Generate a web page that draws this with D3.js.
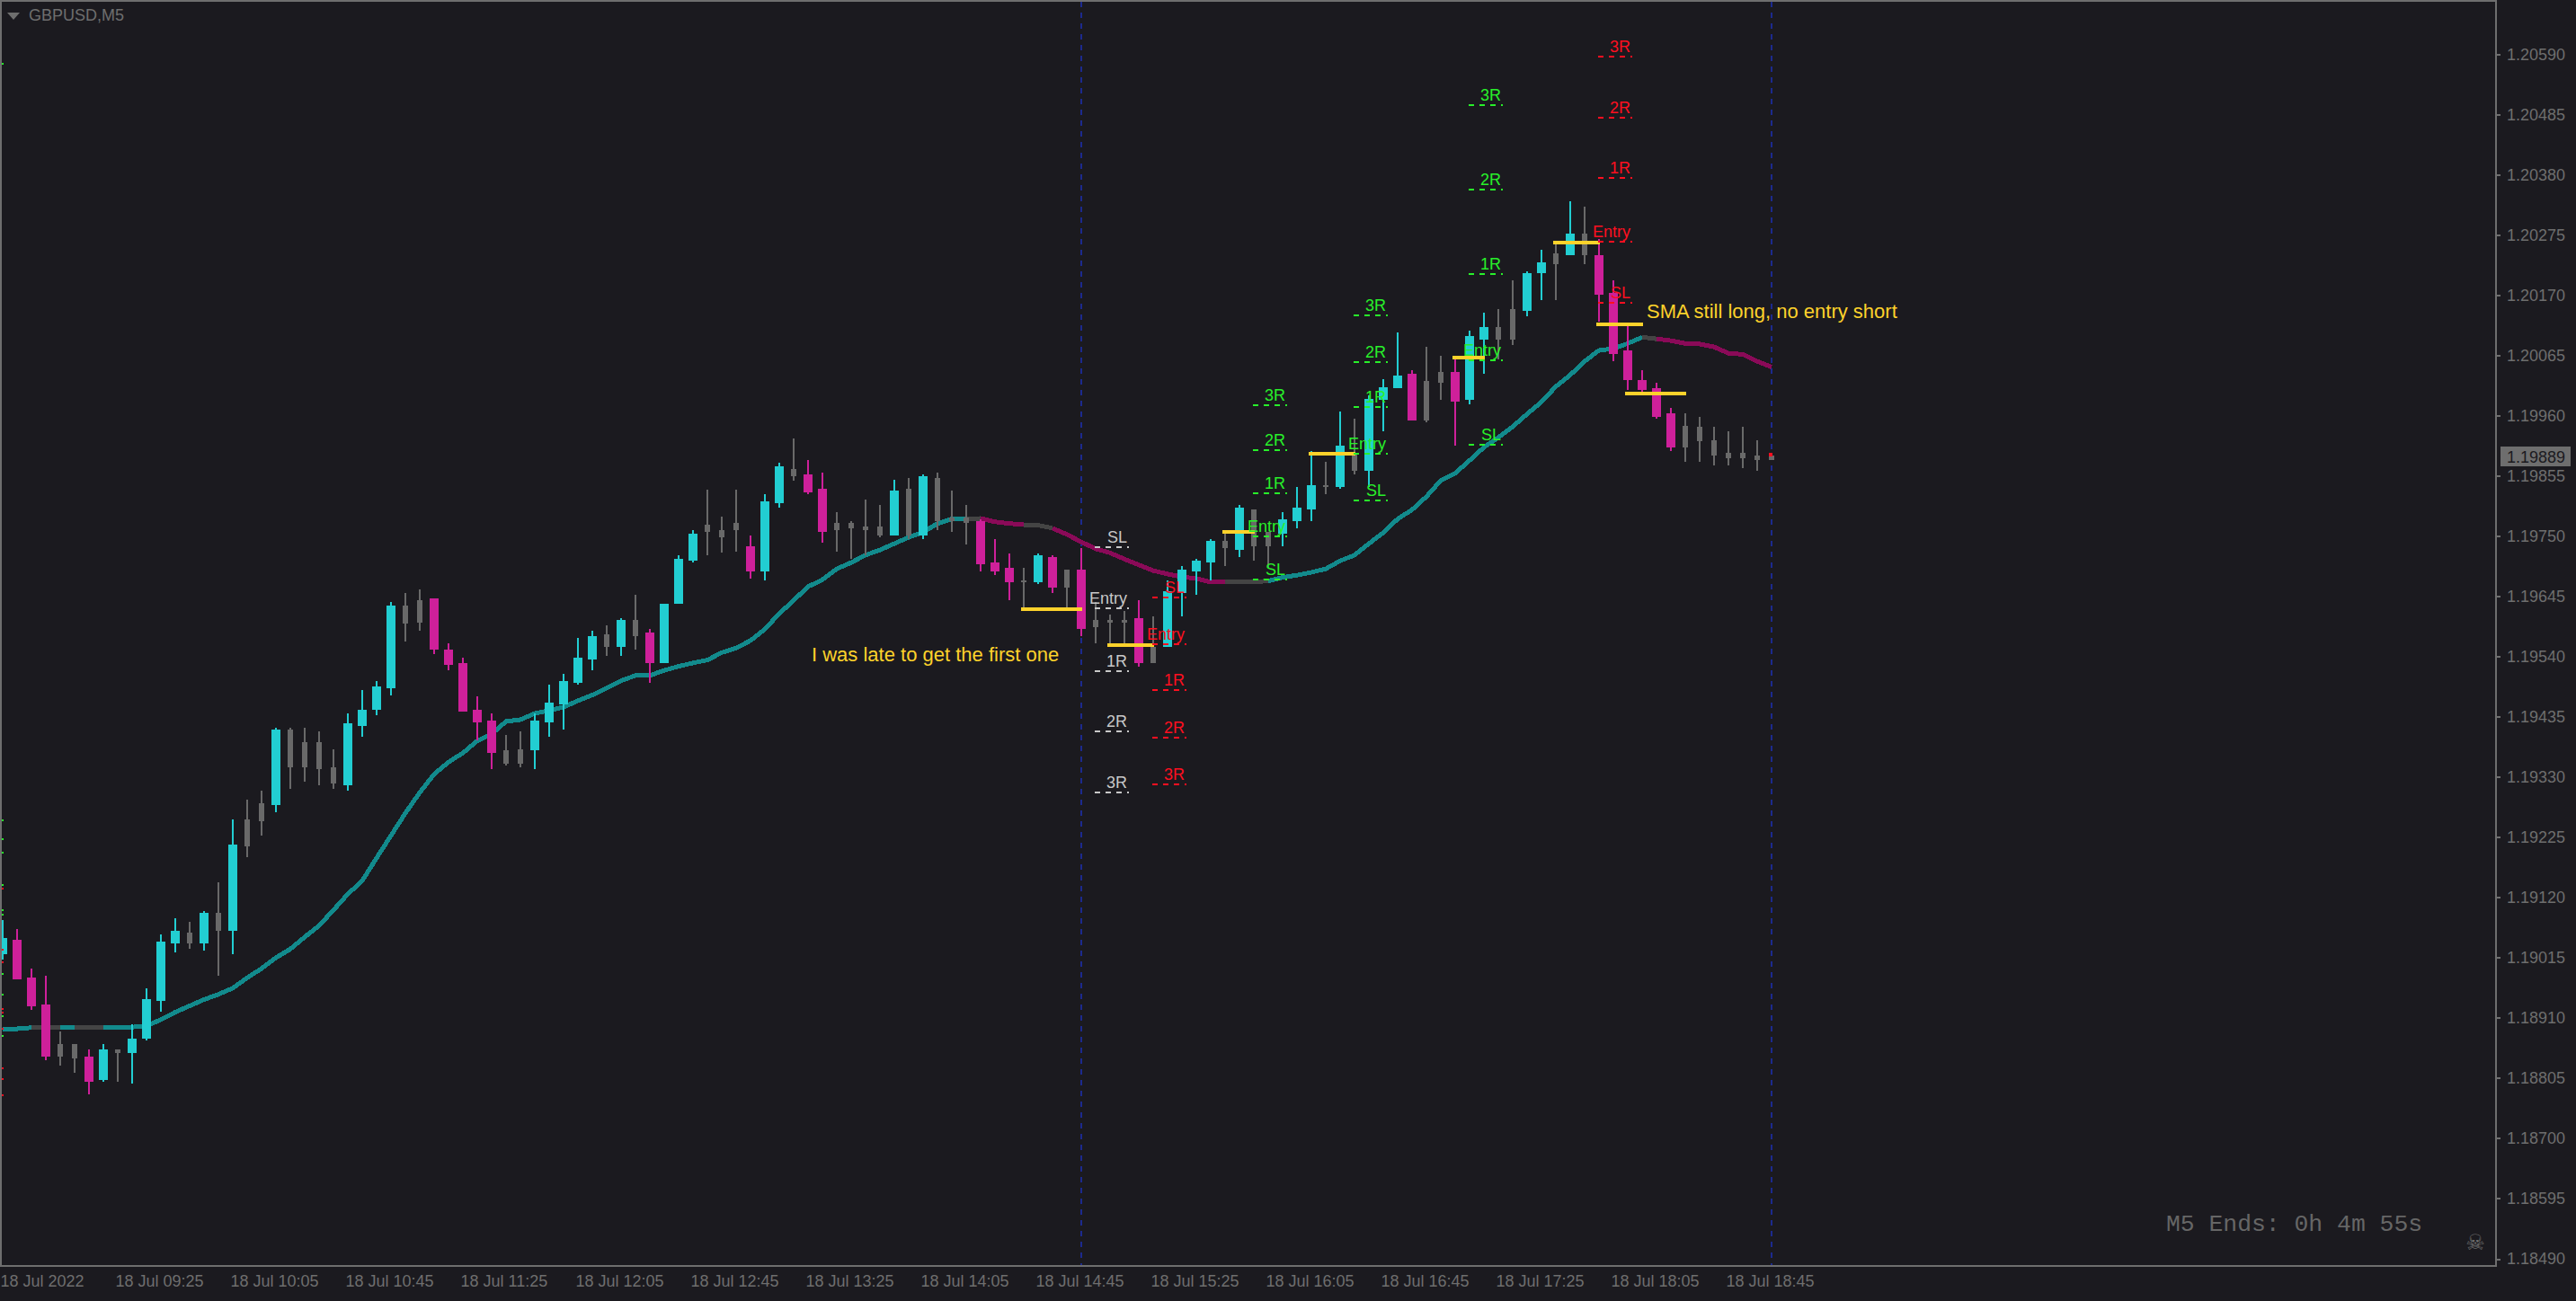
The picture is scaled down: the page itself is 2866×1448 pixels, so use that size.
<!DOCTYPE html>
<html><head><meta charset="utf-8">
<script src="https://cdn.jsdelivr.net/npm/d3@7/dist/d3.min.js"></script>
<style>
html,body{margin:0;padding:0;background:#1b1a1f;overflow:hidden}
text{font-family:"Liberation Sans",Arial,sans-serif;font-size:18px}
</style></head><body>
<svg id="chart" width="2866" height="1448"></svg>
<script>
const kinds = [
"u","d","d","d","n","n","d","u","n","u",
"u","u","u","n","u","n","u","n","n","u",
"n","n","n","n","u","u","u","u","n","n",
"d","d","d","d","d","n","n","u","u","u",
"u","u","n","u","n","d","u","u","u","n",
"n","n","d","u","u","n","d","d","n","n",
"n","n","u","n","u","n","n","n","d","d",
"d","n","u","d","n","d","n","n","n","d",
"n","u","u","u","u","n","u","n","n","u",
"u","u","n","u","n","u","u","u","d","n",
"n","d","u","u","n","n","u","u","n","u",
"n","d","d","d","d","d","d","n","n","n",
"n","n","n","n"];
const highs = [
1.19080,1.19065,1.18996,1.18983,1.18887,1.18865,1.18855,1.18865,1.18855,1.18899,
1.18962,1.19055,1.19084,1.19077,1.19096,1.19146,1.19256,1.19291,1.19306,1.19416,
1.19416,1.19416,1.19410,1.19379,1.19441,1.19482,1.19498,1.19635,1.19651,1.19657,
1.19641,1.19563,1.19538,1.19470,1.19441,1.19404,1.19410,1.19441,1.19491,1.19510,
1.19572,1.19585,1.19594,1.19607,1.19648,1.19588,1.19632,1.19717,1.19761,1.19831,
1.19784,1.19831,1.19751,1.19824,1.19878,1.19921,1.19883,1.19861,1.19792,1.19776,
1.19814,1.19805,1.19849,1.19852,1.19858,1.19861,1.19830,1.19805,1.19780,1.19745,
1.19720,1.19695,1.19720,1.19717,1.19692,1.19729,1.19635,1.19613,1.19619,1.19638,
1.19610,1.19673,1.19698,1.19710,1.19745,1.19757,1.19805,1.19796,1.19757,1.19792,
1.19836,1.19899,1.19880,1.19968,1.19955,1.19996,1.20024,1.20105,1.20039,1.20080,
1.20064,1.20058,1.20108,1.20140,1.20146,1.20196,1.20212,1.20250,1.20259,1.20334,
1.20325,1.20268,1.20196,1.20118,1.20039,1.20017,1.19974,1.19965,1.19958,1.19940,
1.19933,1.19940,1.19918,1.19890];
const bodyTops = [
1.19049,1.19046,1.18980,1.18934,1.18865,1.18865,1.18843,1.18855,1.18855,1.18874,
1.18943,1.19043,1.19062,1.19059,1.19093,1.19093,1.19212,1.19256,1.19284,1.19413,
1.19413,1.19391,1.19391,1.19347,1.19423,1.19448,1.19488,1.19629,1.19629,1.19638,
1.19641,1.19553,1.19528,1.19448,1.19429,1.19376,1.19379,1.19429,1.19460,1.19498,
1.19538,1.19575,1.19579,1.19604,1.19604,1.19582,1.19632,1.19710,1.19754,1.19770,
1.19761,1.19773,1.19732,1.19811,1.19872,1.19867,1.19858,1.19833,1.19773,1.19773,
1.19767,1.19767,1.19830,1.19833,1.19855,1.19852,1.19783,1.19783,1.19776,1.19704,
1.19695,1.19673,1.19717,1.19714,1.19692,1.19692,1.19604,1.19604,1.19604,1.19607,
1.19557,1.19654,1.19692,1.19707,1.19742,1.19742,1.19799,1.19796,1.19757,1.19780,
1.19799,1.19839,1.19839,1.19908,1.19896,1.19990,1.20009,1.20030,1.20033,1.20020,
1.20036,1.20036,1.20099,1.20114,1.20114,1.20146,1.20209,1.20228,1.20243,1.20278,
1.20278,1.20240,1.20174,1.20074,1.20023,1.20008,1.19965,1.19943,1.19940,1.19918,
1.19896,1.19896,1.19890,1.19890];
const bodyBottoms = [
1.19021,1.18977,1.18931,1.18843,1.18843,1.18840,1.18799,1.18802,1.18849,1.18849,
1.18874,1.18940,1.19040,1.19040,1.19040,1.19062,1.19062,1.19209,1.19253,1.19281,
1.19347,1.19347,1.19344,1.19319,1.19316,1.19419,1.19448,1.19485,1.19597,1.19600,
1.19553,1.19525,1.19444,1.19426,1.19372,1.19354,1.19354,1.19376,1.19426,1.19457,
1.19495,1.19535,1.19557,1.19557,1.19575,1.19528,1.19528,1.19632,1.19707,1.19757,
1.19748,1.19761,1.19689,1.19689,1.19808,1.19855,1.19827,1.19757,1.19761,1.19764,
1.19761,1.19751,1.19751,1.19751,1.19751,1.19776,1.19776,1.19773,1.19701,1.19689,
1.19670,1.19670,1.19670,1.19660,1.19660,1.19588,1.19591,1.19600,1.19600,1.19528,
1.19528,1.19557,1.19651,1.19689,1.19704,1.19729,1.19726,1.19732,1.19732,1.19754,
1.19776,1.19796,1.19836,1.19836,1.19864,1.19864,1.19987,1.20008,1.19952,1.19952,
1.20017,1.19984,1.19987,1.20093,1.20093,1.20093,1.20143,1.20209,1.20224,1.20240,
1.20240,1.20171,1.20067,1.20023,1.20005,1.19958,1.19905,1.19905,1.19915,1.19890,
1.19886,1.19886,1.19883,1.19883];
const lows = [
1.19011,1.18977,1.18924,1.18837,1.18827,1.18815,1.18777,1.18799,1.18799,1.18796,
1.18871,1.18921,1.19024,1.19030,1.19027,1.18983,1.19021,1.19190,1.19228,1.19269,
1.19310,1.19322,1.19316,1.19310,1.19306,1.19401,1.19438,1.19473,1.19566,1.19585,
1.19544,1.19516,1.19444,1.19394,1.19344,1.19350,1.19347,1.19344,1.19401,1.19413,
1.19491,1.19516,1.19541,1.19541,1.19553,1.19495,1.19528,1.19632,1.19704,1.19717,
1.19721,1.19723,1.19676,1.19673,1.19799,1.19846,1.19824,1.19739,1.19723,1.19710,
1.19717,1.19748,1.19751,1.19745,1.19745,1.19761,1.19757,1.19736,1.19689,1.19682,
1.19638,1.19623,1.19666,1.19651,1.19619,1.19575,1.19563,1.19563,1.19563,1.19522,
1.19528,1.19557,1.19610,1.19648,1.19673,1.19698,1.19714,1.19707,1.19695,1.19732,
1.19764,1.19776,1.19824,1.19833,1.19858,1.19836,1.19933,1.20008,1.19952,1.19949,
1.19987,1.19908,1.19980,1.20033,1.20058,1.20083,1.20134,1.20162,1.20162,1.20240,
1.20224,1.20124,1.20055,1.20005,1.20002,1.19955,1.19899,1.19880,1.19880,1.19874,
1.19874,1.19868,1.19864,1.19883];
const sma = [
1.18890,1.18891,1.18893,1.18893,1.18893,1.18893,1.18893,1.18893,1.18893,1.18894,
1.18896,1.18907,1.18920,1.18931,1.18942,1.18951,1.18962,1.18980,1.18996,1.19015,
1.19030,1.19051,1.19071,1.19098,1.19126,1.19149,1.19189,1.19228,1.19267,1.19303,
1.19335,1.19356,1.19372,1.19393,1.19405,1.19427,1.19430,1.19441,1.19446,1.19452,
1.19463,1.19473,1.19485,1.19498,1.19507,1.19507,1.19516,1.19523,1.19529,1.19534,
1.19547,1.19555,1.19568,1.19588,1.19615,1.19638,1.19662,1.19674,1.19693,1.19704,
1.19717,1.19726,1.19737,1.19748,1.19757,1.19772,1.19780,1.19780,1.19781,1.19775,
1.19772,1.19770,1.19769,1.19764,1.19753,1.19740,1.19728,1.19721,1.19710,1.19700,
1.19690,1.19684,1.19679,1.19676,1.19670,1.19670,1.19670,1.19670,1.19672,1.19678,
1.19682,1.19687,1.19693,1.19707,1.19717,1.19737,1.19756,1.19780,1.19796,1.19819,
1.19847,1.19860,1.19882,1.19905,1.19922,1.19941,1.19963,1.19984,1.20011,1.20031,
1.20055,1.20074,1.20077,1.20086,1.20097,1.20094,1.20091,1.20086,1.20085,1.20080,
1.20069,1.20067,1.20055,1.20045];
// slope state run lengths of the moving average: [state, number of points]
const smaRuns = [["u",3],["n",2],["u",1],["n",2],["u",60],["n",1],["d",3],["n",2],["d",12],["n",3],["u",26],["n",1],["d",8]];
const priceTicks = [1.20590,1.20485,1.20380,1.20275,1.20170,1.20065,1.19960,1.19855,1.19750,1.19645,1.19540,1.19435,1.19330,1.19225,1.19120,1.19015,1.18910,1.18805,1.18700,1.18595,1.18490];
const timeLabels = ["18 Jul 2022","18 Jul 09:25","18 Jul 10:05","18 Jul 10:45","18 Jul 11:25","18 Jul 12:05","18 Jul 12:45","18 Jul 13:25","18 Jul 14:05","18 Jul 14:45","18 Jul 15:25","18 Jul 16:05","18 Jul 16:45","18 Jul 17:25","18 Jul 18:05","18 Jul 18:45"];
const sessionBars = [75,123];
const levelStart = [75.94,79.94,86.94,93.94,101.94,110.94];
const levelEnd   = [78.31,82.31,89.31,96.31,104.31,113.31];
const levelKinds = ["white","red","green","green","green","red"];
const levelNames = ["SL","Entry","1R","2R","3R"];
const levelPrices = [
 [1.19731,1.19624,1.19515,1.19409,1.19303],
 [1.19643,1.19561,1.19481,1.19399,1.19317],
 [1.19674,1.19750,1.19825,1.19900,1.19979],
 [1.19813,1.19894,1.19976,1.20053,1.20135],
 [1.19910,1.20056,1.20207,1.20355,1.20502],
 [1.20157,1.20264,1.20374,1.20480,1.20587]];
const entryFrom  = [70.81,76.81,84.81,90.81,100.81,107.81,110.81,112.81];
const entryTo    = [75.06,80.06,87.06,94.06,103.06,111.06,114.06,117.06];
const entryPrice = [1.19623,1.19560,1.19757,1.19893,1.20061,1.20262,1.20120,1.19998];
const notes = ["I was late to get the first one","SMA still long, no entry short"];
const noteBar = [56.25,114.31];
const notePrice = [1.19532,1.20130];
const leftGreen = [1.20574,1.19255,1.19222,1.19198,1.19141,1.19098,1.19090,1.18986,1.18951,1.18913,1.18879];
const leftRed = [1.19135,1.19029,1.19007,1.18926,1.18920,1.18891,1.18822,1.18803,1.18775];
const bid = 1.19889;

const C = {bg:"#1b1a1f",u:"#22ced2",d:"#ce209a",n:"#696969",smaU:"#128a8c",smaD:"#8a0a58",smaN:"#444444",axis:"#6e6e6e",yellow:"#fdd22b",white:"#c8c8c8",red:"#ff0f20",green:"#28f02a",blue:"#1c2a8e"};
const W=2866,H=1448,plotR=2777,plotB=1409;
const svg=d3.select("#chart");
svg.append("rect").attr("width",W).attr("height",H).attr("fill",C.bg);
const x=d3.scaleLinear().domain([0,123]).range([3,1971]);
const y=d3.scaleLinear().domain([1.18490,1.20590]).range([1401,60.6]);
const crisp=g=>g.attr("shape-rendering","crispEdges");

// session separators
svg.append("g").call(crisp).selectAll("line").data(sessionBars).join("line")
 .attr("x1",d=>x(d)).attr("x2",d=>x(d)).attr("y1",2).attr("y2",plotB)
 .attr("stroke",C.blue).attr("stroke-width",2).attr("stroke-dasharray","6 6");

// SMA
const smaLine=d3.line().x(d=>x(d.i)).y(d=>y(d.v));
const smaG=svg.append("g").call(crisp).attr("fill","none").attr("stroke-width",5).attr("stroke-linejoin","round");
let pos=0;
smaRuns.forEach(([s,n])=>{
  const from=Math.max(0,pos-1),to=pos+n;
  const pts=d3.range(from,to).map(i=>({i,v:sma[i]}));
  smaG.append("path").attr("d",smaLine(pts)).attr("stroke",s==="u"?C.smaU:s==="d"?C.smaD:C.smaN);
  pos=to;
});

// candles
const idx=d3.range(highs.length);
const cg=svg.append("g").call(crisp);
cg.selectAll("rect.w").data(idx).join("rect").attr("class","w")
 .attr("x",i=>x(i)-1).attr("width",2)
 .attr("y",i=>y(highs[i])).attr("height",i=>Math.max(0,y(lows[i])-y(highs[i])))
 .attr("fill",i=>C[kinds[i]]);
cg.selectAll("rect.b").data(idx).join("rect").attr("class","b")
 .attr("x",i=>x(i)-(kinds[i]==="n"?3:5)).attr("width",i=>kinds[i]==="n"?6:10)
 .attr("y",i=>y(bodyTops[i])).attr("height",i=>Math.max(2,y(bodyBottoms[i])-y(bodyTops[i])))
 .attr("fill",i=>C[kinds[i]]);

// bid marker on last bar
svg.append("rect").call(crisp).attr("x",x(123)-3).attr("width",4).attr("y",y(bid)-4).attr("height",4).attr("fill",C.red);

// entry rules
svg.append("g").call(crisp).selectAll("line").data(entryPrice).join("line")
 .attr("x1",(d,i)=>x(entryFrom[i])).attr("x2",(d,i)=>x(entryTo[i]))
 .attr("y1",d=>y(d)).attr("y2",d=>y(d)).attr("stroke",C.yellow).attr("stroke-width",4);

// levels
levelPrices.forEach((row,k)=>{
  const g=svg.append("g"),col=C[levelKinds[k]];
  row.forEach((p,j)=>{
    g.append("line").call(crisp).attr("x1",x(levelStart[k])).attr("x2",x(levelEnd[k]))
     .attr("y1",y(p)).attr("y2",y(p)).attr("stroke",col).attr("stroke-width",2).attr("stroke-dasharray","6 6");
    g.append("text").attr("x",x(levelEnd[k])-2).attr("y",y(p)-5).attr("text-anchor","end").attr("fill",col).text(levelNames[j]);
  });
});

// notes
svg.append("g").selectAll("text").data(notes).join("text")
 .attr("x",(d,i)=>x(noteBar[i])).attr("y",(d,i)=>y(notePrice[i])).attr("fill",C.yellow).style("font-size","22px").text(d=>d);

// left edge marks
const marks=svg.append("g").call(crisp);
marks.selectAll("rect.g").data(leftGreen).join("rect").attr("class","g").attr("x",2).attr("width",2).attr("height",2).attr("y",d=>y(d)-1).attr("fill",C.green);
marks.selectAll("rect.r").data(leftRed).join("rect").attr("class","r").attr("x",2).attr("width",2).attr("height",2).attr("y",d=>y(d)-1).attr("fill",C.red);

// frame
const frame=d3.path();
frame.moveTo(1,plotB);frame.lineTo(1,1);frame.lineTo(plotR,1);frame.lineTo(plotR,plotB);frame.lineTo(0,plotB);
svg.append("path").call(crisp).attr("d",frame.toString()).attr("fill","none").attr("stroke",C.axis).attr("stroke-width",2);

// price axis
const ya=svg.append("g").attr("transform",`translate(${plotR},0)`)
 .call(d3.axisRight(y).tickValues(priceTicks).tickFormat(d3.format(".5f")).tickSize(5).tickPadding(7));
ya.select(".domain").remove();
ya.selectAll("line").attr("stroke",C.axis).attr("stroke-width",2).attr("shape-rendering","crispEdges");
ya.selectAll("text").attr("fill",C.axis).style("font-family",'"Liberation Sans"').style("font-size","18px");

// time axis
const xa=svg.append("g").attr("transform",`translate(0,${plotB})`)
 .call(d3.axisBottom(x).tickValues(timeLabels.map((d,i)=>i*8)).tickFormat((d,i)=>timeLabels[i]).tickSize(0).tickPadding(10));
xa.select(".domain").remove();
xa.selectAll("text").attr("fill",C.axis).attr("text-anchor","start").attr("dx",-3).style("font-family",'"Liberation Sans"').style("font-size","18px");

// bid label
svg.append("rect").call(crisp).attr("x",2782).attr("y",y(bid)-11).attr("width",78).attr("height",22).attr("fill",C.axis);
svg.append("text").attr("x",2789).attr("y",y(bid)+7).attr("fill",C.bg).text(d3.format(".5f")(bid));

// header and footer text
svg.append("path").attr("d",d3.line()([[8,14],[22,14],[15,22]])+"Z").attr("fill",C.axis);
svg.append("text").attr("x",32).attr("y",23).attr("fill",C.axis).text("GBPUSD,M5");
svg.append("text").attr("x",2410).attr("y",1370).attr("fill","#666666").style("font-family",'"Liberation Mono"').style("font-size","26.4px").text("M5 Ends: 0h 4m 55s");
svg.append("text").attr("x",2754).attr("y",1391).attr("text-anchor","middle").attr("fill",C.axis).style("font-family",'"DejaVu Sans"').style("font-size","24px").text("\u2620");
</script>
</body></html>
